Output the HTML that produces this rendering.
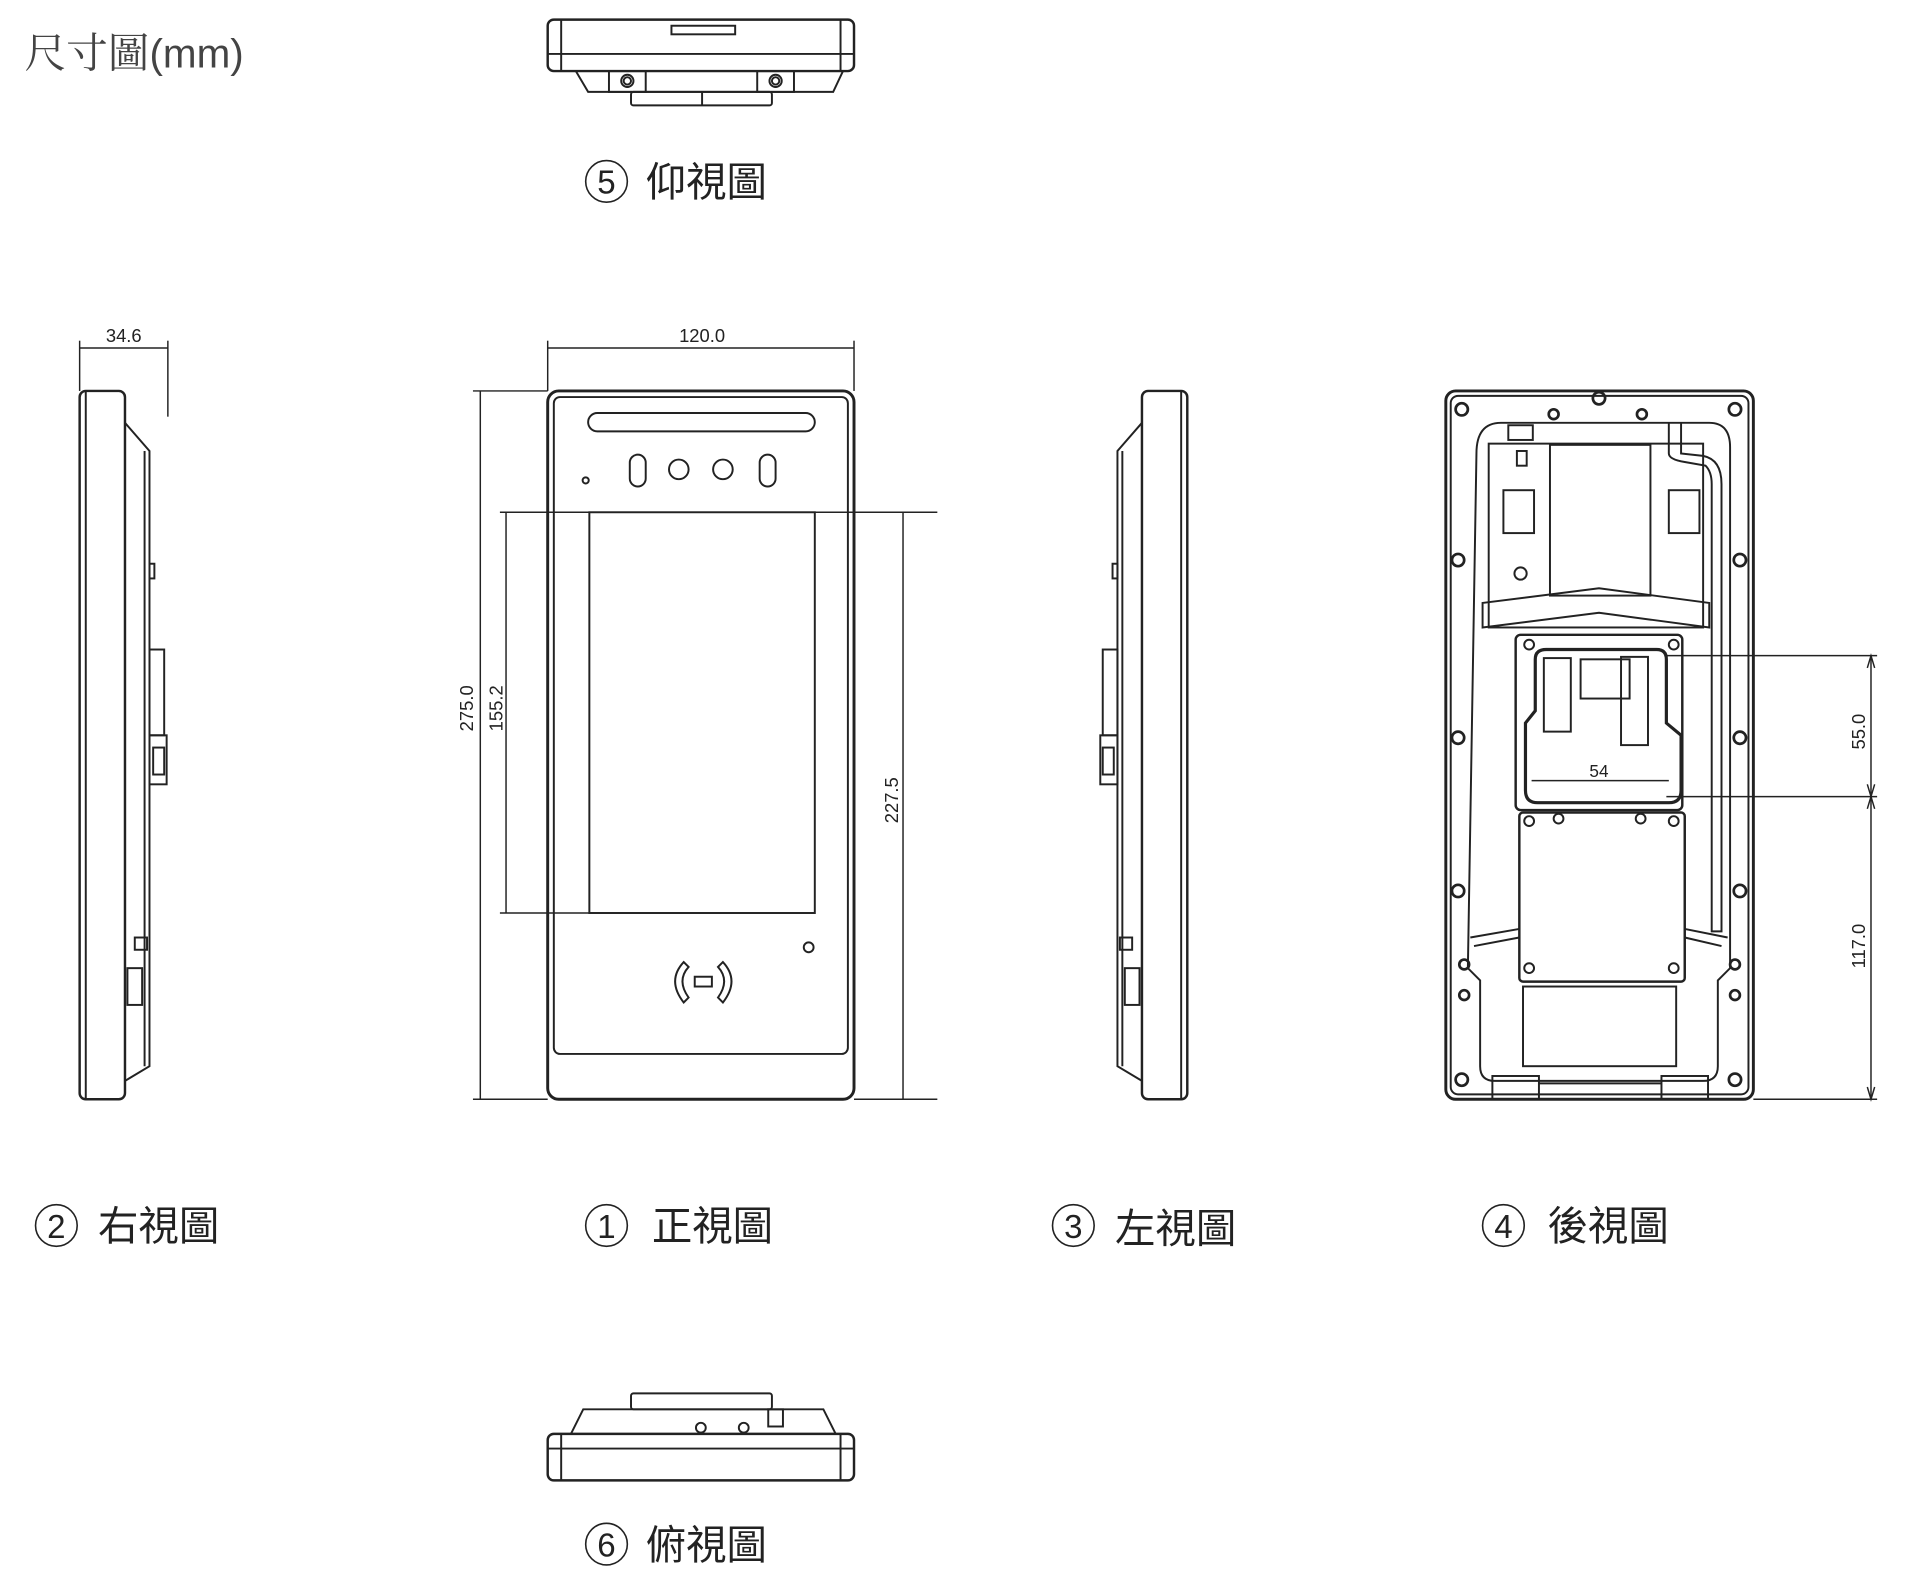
<!DOCTYPE html>
<html><head><meta charset="utf-8"><style>
html,body{margin:0;padding:0;background:#fff;}
svg{display:block;}
text{font-family:"Liberation Sans","Noto Sans CJK TC",sans-serif;fill:#222;}
</style></head><body>
<svg width="1920" height="1576" viewBox="0 0 1567 1286" preserveAspectRatio="none" xmlns="http://www.w3.org/2000/svg">
<g fill="none" stroke="#222" stroke-width="1.6">

<!-- Title -->
<text x="20" y="55" font-size="34" stroke="none" style="fill:#444"><tspan style="font-family:'Noto Serif CJK SC',serif">尺寸圖</tspan><tspan style="font-family:'Liberation Sans',sans-serif" font-size="33">(mm)</tspan></text>

<!-- Bottom view 5 -->
<rect x="447" y="16" width="250" height="42" rx="5" stroke-width="2"/>
<line x1="447" y1="44" x2="697" y2="44"/>
<line x1="458" y1="16" x2="458" y2="58"/><line x1="686" y1="16" x2="686" y2="58"/>
<rect x="548" y="21" width="52" height="7"/>
<path d="M470 58 L480 75 L680 75 L688 58"/>
<rect x="497" y="58" width="30" height="17"/><rect x="618" y="58" width="30" height="17"/>
<circle cx="512" cy="66" r="5"/><circle cx="512" cy="66" r="3"/>
<circle cx="633" cy="66" r="5"/><circle cx="633" cy="66" r="3"/>
<rect x="515" y="75" width="115" height="11" rx="2"/>
<line x1="573" y1="75" x2="573" y2="86"/>
<circle cx="495" cy="148" r="17" stroke-width="1.3"/>
<text x="495" y="158" font-size="27" text-anchor="middle" stroke="none">5</text>
<text x="527" y="160" font-size="33" stroke="none">仰視圖</text>

<!-- Right view 2 -->
<rect x="65" y="319" width="37" height="578" rx="5" stroke-width="2"/>
<line x1="70" y1="319" x2="70" y2="897"/>
<path d="M102 345 L122 368 L122 870 L102 882"/>
<line x1="118" y1="368" x2="118" y2="870"/>
<rect x="122" y="460" width="4" height="12"/><rect x="122" y="530" width="12" height="70"/>
<rect x="122" y="600" width="14" height="40"/><rect x="125" y="610" width="9" height="22"/>
<rect x="110" y="765" width="10" height="10"/><rect x="104" y="790" width="12" height="30"/>
<line x1="65" y1="284" x2="137" y2="284" stroke-width="1.2"/>
<line x1="65" y1="278" x2="65" y2="319" stroke-width="1.2"/><line x1="137" y1="278" x2="137" y2="340" stroke-width="1.2"/>
<text x="101" y="279" font-size="15" text-anchor="middle" stroke="none">34.6</text>
<circle cx="46" cy="1000" r="17" stroke-width="1.3"/>
<text x="46" y="1010" font-size="27" text-anchor="middle" stroke="none">2</text>
<text x="80" y="1012" font-size="33" stroke="none">右視圖</text>

<!-- Front view 1 -->
<rect x="447" y="319" width="250" height="578" rx="9" stroke-width="2.4"/>
<rect x="452" y="324" width="240" height="536" rx="5"/>
<rect x="480" y="337" width="185" height="15" rx="7.5"/>
<rect x="514" y="371" width="13" height="26" rx="6.5"/>
<circle cx="554" cy="383" r="8"/><circle cx="590" cy="383" r="8"/>
<rect x="620" y="371" width="13" height="26" rx="6.5"/>
<circle cx="478" cy="392" r="2.5"/>
<rect x="481" y="418" width="184" height="327"/>
<circle cx="660" cy="773" r="4"/>
<rect x="567" y="797" width="14" height="8"/>
<path d="M558 785 Q544 800 558 818 L562 814 Q552 800 562 789 Z"/>
<path d="M590 785 Q604 800 590 818 L586 814 Q596 800 586 789 Z"/>
<g stroke-width="1.2">
<line x1="447" y1="284" x2="697" y2="284"/>
<line x1="447" y1="278" x2="447" y2="319"/><line x1="697" y1="278" x2="697" y2="319"/>
<line x1="392" y1="319" x2="392" y2="897"/>
<line x1="386" y1="319" x2="447" y2="319"/><line x1="386" y1="897" x2="447" y2="897"/>
<line x1="413" y1="418" x2="413" y2="745"/>
<line x1="408" y1="418" x2="481" y2="418"/><line x1="408" y1="745" x2="481" y2="745"/>
<line x1="737" y1="418" x2="737" y2="897"/>
<line x1="665" y1="418" x2="765" y2="418"/><line x1="697" y1="897" x2="765" y2="897"/>
</g>
<text x="573" y="279" font-size="15" text-anchor="middle" stroke="none">120.0</text>
<text transform="translate(386 578) rotate(-90)" font-size="15" text-anchor="middle" stroke="none">275.0</text>
<text transform="translate(410 578) rotate(-90)" font-size="15" text-anchor="middle" stroke="none">155.2</text>
<text transform="translate(733 653) rotate(-90)" font-size="15" text-anchor="middle" stroke="none">227.5</text>
<circle cx="495" cy="1000" r="17" stroke-width="1.3"/>
<text x="495" y="1010" font-size="27" text-anchor="middle" stroke="none">1</text>
<text x="532" y="1012" font-size="33" stroke="none">正視圖</text>

<!-- Left view 3 -->
<rect x="932" y="319" width="37" height="578" rx="5" stroke-width="2"/>
<line x1="964" y1="319" x2="964" y2="897"/>
<path d="M932 345 L912 368 L912 870 L932 882"/>
<line x1="916" y1="368" x2="916" y2="870"/>
<rect x="908" y="460" width="4" height="12"/><rect x="900" y="530" width="12" height="70"/>
<rect x="898" y="600" width="14" height="40"/><rect x="900" y="610" width="9" height="22"/>
<rect x="914" y="765" width="10" height="10"/><rect x="918" y="790" width="12" height="30"/>
<circle cx="876" cy="1000" r="17" stroke-width="1.3"/>
<text x="876" y="1010" font-size="27" text-anchor="middle" stroke="none">3</text>
<text x="910" y="1014" font-size="33" stroke="none">左視圖</text>

<!-- Back view 4 -->
<rect x="1180" y="319" width="251" height="578" rx="8" stroke-width="2.4"/>
<rect x="1184" y="323" width="243" height="570" rx="6"/>
<path d="M1205 370 Q1205 345 1225 345 L1395 345 Q1412 345 1412 365 L1412 790 L1402 800 L1402 870 Q1402 882 1390 882 L1220 882 Q1208 882 1208 870 L1208 800 L1198 790 Z"/>
<rect x="1215" y="362" width="175" height="150"/>
<rect x="1265" y="363" width="82" height="123"/>
<rect x="1227" y="400" width="25" height="35"/><rect x="1362" y="400" width="25" height="35"/>
<rect x="1231" y="347" width="20" height="12"/><rect x="1238" y="368" width="8" height="12"/>
<circle cx="1241" cy="468" r="5"/>
<path d="M1210 492 L1305 480 L1395 492 L1395 512 L1305 500 L1210 512 Z"/>
<path d="M1362 345 L1362 370 Q1362 375 1375 377 L1392 380 Q1397 385 1397 395 L1397 760 L1405 760 L1405 395 Q1405 375 1390 372 L1372 370 L1372 345"/>
<rect x="1237" y="518" width="136" height="143" rx="4" stroke-width="2"/>
<path d="M1253 538 Q1253 530 1262 530 L1352 530 Q1360 530 1360 538 L1360 590 L1372 600 L1372 645 Q1372 655 1362 655 L1255 655 Q1245 655 1245 645 L1245 590 L1253 580 Z" stroke-width="2.6"/>
<rect x="1260" y="537" width="22" height="60"/>
<rect x="1323" y="536" width="22" height="72"/>
<rect x="1290" y="538" width="40" height="32"/>
<line x1="1250" y1="637" x2="1362" y2="637" stroke-width="1.2"/>
<text x="1305" y="634" font-size="14" text-anchor="middle" stroke="none">54</text>
<circle cx="1248" cy="526" r="4"/><circle cx="1366" cy="526" r="4"/>
<rect x="1240" y="663" width="135" height="138" rx="3" stroke-width="2"/>
<circle cx="1248" cy="670" r="4"/><circle cx="1272" cy="668" r="4"/><circle cx="1339" cy="668" r="4"/><circle cx="1366" cy="670" r="4"/>
<circle cx="1248" cy="790" r="4"/><circle cx="1366" cy="790" r="4"/>
<rect x="1243" y="805" width="125" height="65"/>
<path d="M1200 765 L1240 758 M1203 772 L1240 765 M1375 758 L1410 765 M1375 765 L1405 772"/>
<rect x="1218" y="878" width="38" height="19"/><rect x="1356" y="878" width="38" height="19"/>
<line x1="1256" y1="884" x2="1356" y2="884"/>
<g stroke-width="2.2">
<circle cx="1193" cy="334" r="5"/><circle cx="1305" cy="325" r="5"/><circle cx="1416" cy="334" r="5"/>
<circle cx="1268" cy="338" r="4"/><circle cx="1340" cy="338" r="4"/>
<circle cx="1190" cy="457" r="5"/><circle cx="1420" cy="457" r="5"/>
<circle cx="1190" cy="602" r="5"/><circle cx="1420" cy="602" r="5"/>
<circle cx="1190" cy="727" r="5"/><circle cx="1420" cy="727" r="5"/>
<circle cx="1195" cy="787" r="4"/><circle cx="1416" cy="787" r="4"/>
<circle cx="1195" cy="812" r="4"/><circle cx="1416" cy="812" r="4"/>
<circle cx="1193" cy="881" r="5"/><circle cx="1416" cy="881" r="5"/>
</g>
<g stroke-width="1.2">
<line x1="1360" y1="535" x2="1532" y2="535"/><line x1="1360" y1="650" x2="1532" y2="650"/>
<line x1="1431" y1="897" x2="1532" y2="897"/>
<line x1="1527" y1="535" x2="1527" y2="897"/>
<path d="M1524 545 L1527 535 L1530 545 M1524 640 L1527 650 L1530 640 M1524 660 L1527 650 L1530 660 M1524 887 L1527 897 L1530 887"/>
</g>
<text transform="translate(1522 597) rotate(-90)" font-size="15" text-anchor="middle" stroke="none">55.0</text>
<text transform="translate(1522 772) rotate(-90)" font-size="15" text-anchor="middle" stroke="none">117.0</text>
<circle cx="1227" cy="1000" r="17" stroke-width="1.3"/>
<text x="1227" y="1010" font-size="27" text-anchor="middle" stroke="none">4</text>
<text x="1263" y="1012" font-size="33" stroke="none">後視圖</text>

<!-- Top view 6 -->
<rect x="447" y="1170" width="250" height="38" rx="5" stroke-width="2"/>
<line x1="447" y1="1182" x2="697" y2="1182"/>
<line x1="458" y1="1170" x2="458" y2="1208"/><line x1="686" y1="1170" x2="686" y2="1208"/>
<path d="M466 1170 L476 1150 L672 1150 L682 1170"/>
<rect x="515" y="1137" width="115" height="13" rx="2"/>
<circle cx="572" cy="1165" r="4"/><circle cx="607" cy="1165" r="4"/>
<rect x="627" y="1150" width="12" height="14"/>
<circle cx="495" cy="1260" r="17" stroke-width="1.3"/>
<text x="495" y="1270" font-size="27" text-anchor="middle" stroke="none">6</text>
<text x="527" y="1272" font-size="33" stroke="none">俯視圖</text>
</g>
</svg>
</body></html>
